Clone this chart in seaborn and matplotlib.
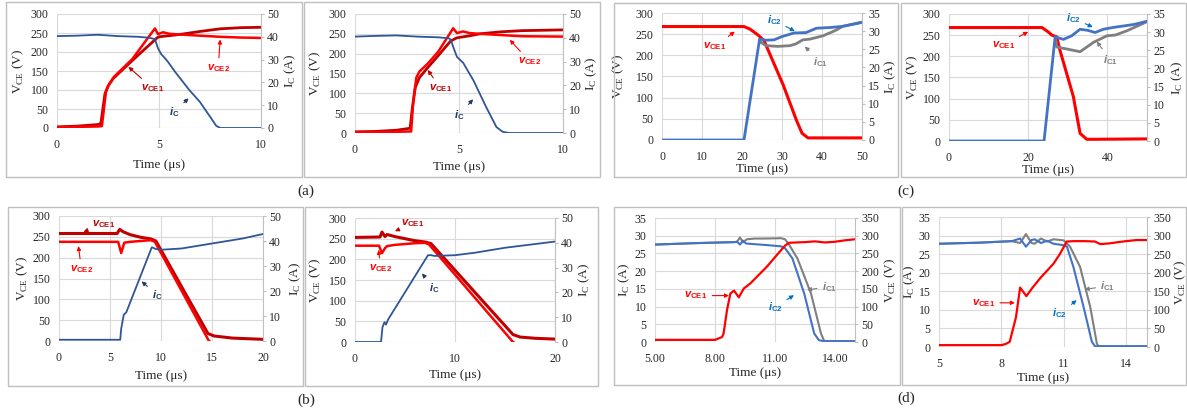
import matplotlib
matplotlib.use("Agg")
import matplotlib.pyplot as plt
import numpy as np
import seaborn as sns
from matplotlib.patches import Rectangle
from matplotlib.ticker import FormatStrFormatter

# ==========================================================
# Data
# ==========================================================

# (a) left
a1_t_vce1 = [0, 1, 2.0, 2.15, 2.35, 2.5, 2.75, 3.7, 4.9, 5.0, 5.5, 6, 7, 8, 9, 10]
a1_vce1 = [3, 5, 9, 12, 90, 110, 130, 178, 237, 240, 243, 246, 254, 261, 264, 265]
a1_t_vce2 = [0, 1, 2.0, 2.2, 2.4, 2.55, 2.8, 3.7, 4.8, 4.95, 5.2, 5.5, 6, 7, 8, 9, 10]
a1_vce2 = [2, 3, 4, 5, 95, 115, 135, 182, 262, 247, 252, 248, 246, 243, 240, 238, 237]
a1_t_ic = [0, 1, 2, 3, 4, 4.5, 4.8, 4.95, 5.1, 5.4, 5.8, 6.5, 7.0, 7.5, 7.8, 8.0, 10]
a1_ic = [40.3, 40.5, 40.9, 40.3, 40.0, 39.6, 39.0, 35, 32.5, 29.5, 24.5, 16.5, 11.5, 5, 1, 0, 0]

# (a) right
a2_t_vce1 = [0, 1, 2, 2.65, 2.75, 2.9, 3.1, 3.5, 4.0, 4.6, 4.9, 5.5, 6, 7, 8, 10]
a2_vce1 = [3, 4, 7, 12, 60, 115, 140, 165, 195, 232, 240, 245, 250, 255, 258, 260]
a2_t_vce2 = [0, 1, 2, 2.7, 2.8, 2.95, 3.1, 3.5, 4.0, 4.72, 4.9, 5.2, 5.5, 6, 7, 8, 10]
a2_vce2 = [2, 2, 3, 4, 80, 140, 155, 175, 205, 264, 252, 256, 252, 250, 247, 244, 243]
a2_t_ic = [0, 1, 2, 3, 4, 4.5, 4.6, 4.75, 4.9, 5.2, 5.7, 6.3, 6.8, 7.1, 7.4, 10]
a2_ic = [40.5, 40.8, 41, 40.5, 40.2, 39.8, 39.3, 35.5, 32, 29.5, 22, 11, 2.5, 0.5, 0, 0]

# (b) left
b1_t_vce1 = [0, 5.7, 5.95, 6.3, 7, 8, 9, 9.5, 12, 14.6, 15.2, 17, 20]
b1_vce1 = [258, 258, 268, 262, 255, 249, 245, 240, 131, 18, 12, 7, 4]
b1_t_vce2 = [0, 5.8, 6.1, 6.4, 7, 8, 9, 9.4, 14.7, 15.5, 20]
b1_vce2 = [238, 238, 211, 236, 238, 240, 242, 238, 0, -10, -10]
b1_t_ic = [0, 6.0, 6.1, 6.35, 6.6, 9.1, 9.5, 10, 12, 15, 18, 20]
b1_ic = [0.5, 0.5, 5, 10.5, 11.5, 37.5, 36.8, 36.5, 37, 39, 41, 42.8]

# (b) right
b2_t_vce1 = [0, 2.5, 2.7, 3.0, 3.2, 4, 5, 6, 7, 7.6, 15.8, 16.5, 18, 20]
b2_vce1 = [253, 254, 266, 255, 260, 255, 250, 245, 242, 238, 18, 12, 9, 7]
b2_t_vce2 = [0, 2.4, 2.7, 3.0, 3.2, 4, 5, 6, 7, 7.4, 15.8, 16.5, 20]
b2_vce2 = [233, 233, 215, 227, 232, 235, 237, 239, 240, 236, 0, -10, -10]
b2_t_ic = [0, 2.6, 2.75, 2.95, 3.1, 3.3, 7.3, 7.6, 8, 10, 12, 15, 18, 20]
b2_ic = [0, 0, 6, 8, 7, 9, 35, 35, 34.7, 35, 36, 38, 39.5, 40.5]

# (c) left
c1_t_vce1 = [0, 10, 20.5, 22, 24, 25.5, 30.3, 33.6, 35, 36.5, 40, 50]
c1_vce1 = [268, 268, 268, 262, 248, 235, 130, 47, 16, 5, 5, 5]
c1_t_ic2 = [0, 20.5, 24.4, 26, 28, 30, 33, 36, 38.6, 42, 45, 50]
c1_ic2 = [0, 0, 27.8, 27.5, 27.6, 28.5, 29.5, 29.6, 30.8, 31, 31.3, 32.4]
c1_t_ic1 = [24.6, 26, 29, 32, 33.5, 35.2, 37, 40.2, 43, 45.2, 48, 50]
c1_ic1 = [27, 26, 25.8, 26, 26.5, 27.6, 27.8, 28.7, 30, 31.3, 32, 32.5]

# (c) right
c2_t_vce1 = [0, 10, 23.5, 25, 26, 27.2, 28, 31.4, 33.1, 34.8, 36, 50]
c2_vce1 = [268, 268, 268, 258, 250, 246, 215, 105, 18, 4, 4, 5]
c2_t_ic2 = [0, 24, 26.8, 28.9, 31, 33.1, 35, 36.9, 39, 41.5, 46.6, 50]
c2_ic2 = [0, 0, 28.7, 28, 29, 30.8, 30.5, 29.9, 30.8, 31.3, 32.1, 33]
c2_t_ic1 = [26.9, 27.2, 30, 33.1, 36.5, 39.9, 42, 45, 50]
c2_ic1 = [28, 25.9, 25.3, 24.6, 27.2, 29, 29.2, 30.4, 32.9]

# (d) left
d1_t_ic2 = [5, 7, 9.0, 9.1, 9.25, 9.4, 9.55, 10, 10.5, 11.3, 11.5, 11.87, 12.46, 12.96, 13.2, 13.5, 15]
d1_ic2 = [27.5, 27.9, 28.2, 28.3, 27.5, 28.6, 27.8, 27.6, 27.4, 27.0, 26.5, 23.6, 13.7, 2.4, 0.5, 0.2, 0.2]
d1_t_ic1 = [5, 7, 9.0, 9.1, 9.25, 9.4, 9.6, 10, 10.5, 11.3, 11.5, 11.7, 12.12, 12.8, 13.3, 13.46, 15]
d1_ic1 = [27.5, 27.9, 28.2, 28.3, 29.5, 28.2, 29.0, 29.2, 29.2, 29.3, 29.0, 27.5, 23.6, 13.7, 2.4, 0.3, 0.2]
d1_t_vce1 = [5, 8, 8.35, 8.43, 8.6, 8.77, 8.95, 9.19, 9.44, 9.78, 10.6, 11.1, 11.5, 11.7, 12.5, 13, 13.5, 14, 14.5, 15]
d1_vce1 = [6, 6, 14, 24, 90, 137, 145, 126, 151, 166, 213, 246, 272, 280, 282, 284, 281, 283, 287, 290]

# (d) right
d2_t_ic2 = [5, 7, 8.5, 8.9, 9.18, 9.45, 9.6, 9.9, 10.2, 10.5, 11, 11.15, 11.46, 11.95, 12.35, 12.5, 15]
d2_ic2 = [27.8, 28.1, 28.5, 29.2, 27.0, 28.8, 29.0, 28.0, 28.6, 27.8, 27.4, 27.0, 21.6, 10.8, 1.4, 0.2, 0.2]
d2_t_ic1 = [5, 7, 8.5, 8.9, 9.18, 9.45, 9.6, 9.9, 10.2, 10.5, 11, 11.3, 11.78, 12.27, 12.59, 12.67, 15]
d2_ic1 = [27.8, 28.1, 28.5, 28.0, 30.4, 28.0, 27.8, 29.2, 28.4, 29.0, 28.7, 27.0, 21.6, 10.8, 0.9, 0.2, 0.2]
d2_t_vce1 = [5, 8, 8.2, 8.4, 8.7, 8.9, 9.2, 9.5, 9.86, 10.5, 10.82, 11.14, 11.5, 12, 12.5, 12.75, 13.2, 13.7, 14, 14.5, 15]
d2_vce1 = [5, 5, 8, 14, 80, 160, 137, 160, 185, 224, 251, 284, 285, 285, 284, 277, 279, 283, 285, 288, 288]

# ==========================================================
# Style
# ==========================================================

sns.set_style("white")
plt.rcParams["font.family"] = ["Liberation Serif", "DejaVu Serif"]
plt.rcParams["mathtext.fontset"] = "custom"
plt.rcParams["mathtext.rm"] = "Liberation Serif"
plt.rcParams["mathtext.it"] = "Liberation Sans:italic:bold"
plt.rcParams["mathtext.bf"] = "Liberation Sans:bold"

DARK_RED = "#c00000"
RED = "#ff0000"
NAVY = "#2f5597"
NAVY_TXT = "#1f3864"
BLUE = "#4472c4"
BLUE_TXT = "#0070c0"
GRAY = "#7f7f7f"
GRID = "#d9d9d9"
TICK = "#262626"

VCE1 = r"$\mathit{v}_{\mathbf{CE1}}$"
VCE2 = r"$\mathit{v}_{\mathbf{CE2}}$"
IC = r"$\mathit{i}_{\mathbf{C}}$"
IC1 = r"$\mathit{i}_{\mathbf{C1}}$"
IC2 = r"$\mathit{i}_{\mathbf{C2}}$"
V_LAB = r"V$_{\rm CE}$ (V)"
I_LAB = r"I$_{\rm C}$ (A)"

W, H = 1187, 415
fig = plt.figure(figsize=(W / 100, H / 100), dpi=100)


def add_pair(x0, y0, x1, y1):
    ax = fig.add_axes([x0 / W, 1 - y1 / H, (x1 - x0) / W, (y1 - y0) / H])
    tw = ax.twinx()
    return ax, tw


def line(ax, t, y, color, lw):
    sns.lineplot(x=t, y=y, ax=ax, color=color, linewidth=lw,
                 estimator=None, sort=False)


def dress(ax, tw, xlim, xticks, ylim, yticks, ylim2, yticks2,
          ylab, ylab2, offs, xfmt=None):
    lpx, rpx, bpx = offs
    pos = ax.get_position()
    wpx, hpx = pos.width * W, pos.height * H
    ax.set_xlim(*xlim)
    ax.set_xticks(xticks)
    ax.set_ylim(*ylim)
    ax.set_yticks(yticks)
    tw.set_ylim(*ylim2)
    tw.set_yticks(yticks2)
    if xfmt:
        ax.xaxis.set_major_formatter(FormatStrFormatter(xfmt))
    ax.grid(True, color=GRID, lw=0.8)
    ax.set_axisbelow(True)
    for s in ax.spines.values():
        s.set_visible(False)
    for s in tw.spines.values():
        s.set_visible(False)
    tw.spines["right"].set_visible(True)
    tw.spines["right"].set_color("#bfbfbf")
    tw.spines["right"].set_linewidth(0.8)
    ax.tick_params(axis="both", length=0, labelsize=8.5, colors=TICK)
    ax.tick_params(axis="y", pad=6)
    ax.tick_params(axis="x", pad=8)
    tw.tick_params(axis="y", length=2.5, width=0.8, color="#bfbfbf",
                   labelsize=8.5, labelcolor=TICK, pad=2)
    ax.set_xlabel("Time (μs)", fontsize=9.5, color=TICK)
    ax.set_ylabel(ylab, fontsize=9.5, color=TICK)
    tw.set_ylabel(ylab2, fontsize=9.5, color=TICK)
    ax.xaxis.label.set_va("center")
    ax.yaxis.label.set_va("center")
    tw.yaxis.label.set_va("center")
    ax.xaxis.set_label_coords(0.5, -bpx / hpx)
    ax.yaxis.set_label_coords(-lpx / wpx, 0.5)
    tw.yaxis.set_label_coords(1 + rpx / wpx, 0.5)


def note(ax, tw, text, txt_xy, head_xy, color):
    tw.annotate(text, xy=head_xy, xytext=txt_xy,
                xycoords=ax.transData, textcoords=ax.transData,
                color=color, fontsize=8, ha="center", va="center",
                arrowprops=dict(arrowstyle="-|>", color=color, lw=0.8,
                                mutation_scale=6, shrinkA=1, shrinkB=0))


# ==========================================================
# Panel boxes & captions
# ==========================================================

for x0, y0, x1, y1 in [(6, 2, 302, 177), (304, 2, 600, 177),
                       (614, 3, 898, 177), (901, 3, 1186, 177),
                       (8, 207, 303, 386), (305, 207, 598, 386),
                       (614, 207, 900, 385), (902, 207, 1186, 385)]:
    fig.add_artist(Rectangle((x0 / W, 1 - y1 / H), (x1 - x0) / W, (y1 - y0) / H,
                             transform=fig.transFigure, fill=False,
                             ec="#bfbfbf", lw=1))

for lab, x, y in [("(a)", 306, 191), ("(c)", 906, 191),
                  ("(b)", 306, 400), ("(d)", 906, 398)]:
    fig.text(x / W, 1 - y / H, lab, ha="center", va="center",
             fontsize=11, color=TICK)

V_TICKS = np.arange(0, 301, 50)

# ---------------- (a) left ----------------
ax, tw = add_pair(57, 14, 261, 128)
line(ax, a1_t_vce1, a1_vce1, DARK_RED, 2.0)
line(ax, a1_t_vce2, a1_vce2, RED, 1.8)
line(tw, a1_t_ic, a1_ic, NAVY, 1.3)
dress(ax, tw, (0, 10), [0, 5, 10], (0, 300), V_TICKS, (0, 50),
      np.arange(0, 51, 10), V_LAB, I_LAB, (39, 29, 37))
note(ax, tw, VCE2, (7.9, 157), (8.0, 233), RED)
note(ax, tw, VCE1, (4.7, 104), (3.5, 161), DARK_RED)
note(ax, tw, IC, (5.75, 43), (6.45, 78), NAVY_TXT)

# ---------------- (a) right ----------------
ax, tw = add_pair(355, 14, 563, 133)
line(ax, a2_t_vce1, a2_vce1, DARK_RED, 2.0)
line(ax, a2_t_vce2, a2_vce2, RED, 1.8)
line(tw, a2_t_ic, a2_ic, NAVY, 1.3)
dress(ax, tw, (0, 10), [0, 5, 10], (0, 300), V_TICKS, (0, 50),
      np.arange(0, 51, 10), V_LAB, I_LAB, (40, 28, 34))
note(ax, tw, VCE2, (8.4, 180), (7.44, 235), RED)
note(ax, tw, VCE1, (4.1, 113), (3.5, 159), DARK_RED)
note(ax, tw, IC, (5.0, 46), (5.68, 85), NAVY_TXT)

# ---------------- (b) left ----------------
ax, tw = add_pair(59, 216, 263, 341)
line(ax, b1_t_vce1, b1_vce1, DARK_RED, 2.2)
line(ax, b1_t_vce2, b1_vce2, RED, 1.8)
line(tw, b1_t_ic, b1_ic, NAVY, 1.3)
dress(ax, tw, (0, 20), [0, 5, 10, 15, 20], (0, 300), V_TICKS, (0, 50),
      np.arange(0, 51, 10), V_LAB, I_LAB, (37, 32, 35))
note(ax, tw, VCE1, (4.4, 281), (2.4, 262), DARK_RED)
note(ax, tw, VCE2, (2.2, 172), (1.9, 228), RED)
note(ax, tw, IC, (9.6, 111), (8.1, 143), NAVY_TXT)

# ---------------- (b) right ----------------
ax, tw = add_pair(355, 218, 555, 342)
line(ax, b2_t_vce1, b2_vce1, DARK_RED, 2.2)
line(ax, b2_t_vce2, b2_vce2, RED, 1.8)
line(tw, b2_t_ic, b2_ic, NAVY, 1.3)
dress(ax, tw, (0, 20), [0, 10, 20], (0, 300), V_TICKS, (0, 50),
      np.arange(0, 51, 10), V_LAB, I_LAB, (40, 29, 33))
note(ax, tw, VCE1, (5.8, 288), (4.0, 268), DARK_RED)
note(ax, tw, VCE2, (2.6, 178), (2.35, 223), RED)
note(ax, tw, IC, (7.9, 130), (6.7, 166), NAVY_TXT)

# ---------------- (c) left ----------------
ax, tw = add_pair(662, 13, 862, 140)
line(ax, c1_t_vce1, c1_vce1, RED, 2.2)
line(tw, c1_t_ic1, c1_ic1, GRAY, 2.0)
line(tw, c1_t_ic2, c1_ic2, BLUE, 2.0)
dress(ax, tw, (0, 50), [0, 10, 20, 30, 40, 50], (0, 300), V_TICKS, (0, 35),
      np.arange(0, 36, 5), V_LAB, I_LAB, (44, 28, 29))
note(ax, tw, IC2, (28, 283), (33.2, 257), BLUE_TXT)
note(ax, tw, VCE1, (13.2, 221), (18.2, 256), RED)
note(ax, tw, IC1, (39.5, 185), (35.7, 221), GRAY)

# ---------------- (c) right ----------------
ax, tw = add_pair(949, 14, 1147, 141)
line(ax, c2_t_vce1, c2_vce1, RED, 2.2)
line(tw, c2_t_ic1, c2_ic1, GRAY, 2.0)
line(tw, c2_t_ic2, c2_ic2, BLUE, 2.0)
dress(ax, tw, (0, 50), [0, 20, 40], (0, 300), V_TICKS, (0, 35),
      np.arange(0, 36, 5), V_LAB, I_LAB, (37, 30, 29))
note(ax, tw, IC2, (31.4, 290), (36.3, 269), BLUE_TXT)
note(ax, tw, VCE1, (13.7, 227), (20.0, 258), RED)
note(ax, tw, IC1, (40.8, 191), (37.3, 235), GRAY)

# ---------------- (d) left ----------------
ax, tw = add_pair(655, 218, 855, 342)
line(ax, d1_t_ic1, d1_ic1, GRAY, 1.5)
line(ax, d1_t_ic2, d1_ic2, BLUE, 1.5)
line(tw, d1_t_vce1, d1_vce1, RED, 1.6)
dress(ax, tw, (5, 15), [5, 8, 11, 14], (0, 35), np.arange(0, 36, 5), (0, 350),
      np.arange(0, 351, 50), I_LAB, V_LAB, (31, 35, 31), xfmt="%.2f")
note(ax, tw, VCE1, (7.05, 13.1), (8.7, 13.1), RED)
note(ax, tw, IC1, (13.7, 15.6), (12.6, 14.7), GRAY)
note(ax, tw, IC2, (11.0, 9.9), (11.95, 13.2), BLUE_TXT)

# ---------------- (d) right ----------------
ax, tw = add_pair(939, 217, 1147, 347)
line(ax, d2_t_ic1, d2_ic1, GRAY, 1.5)
line(ax, d2_t_ic2, d2_ic2, BLUE, 1.5)
line(tw, d2_t_vce1, d2_vce1, RED, 1.6)
dress(ax, tw, (5, 15), [5, 8, 11, 14], (0, 35), np.arange(0, 36, 5), (0, 350),
      np.arange(0, 351, 50), I_LAB, V_LAB, (30, 33, 31))
note(ax, tw, VCE1, (7.15, 11.9), (8.65, 11.9), RED)
note(ax, tw, IC1, (13.1, 16.4), (12.0, 15.5), GRAY)
note(ax, tw, IC2, (10.8, 9.0), (11.62, 12.6), BLUE_TXT)

fig.savefig("out.png", dpi=100)
plt.close(fig)
